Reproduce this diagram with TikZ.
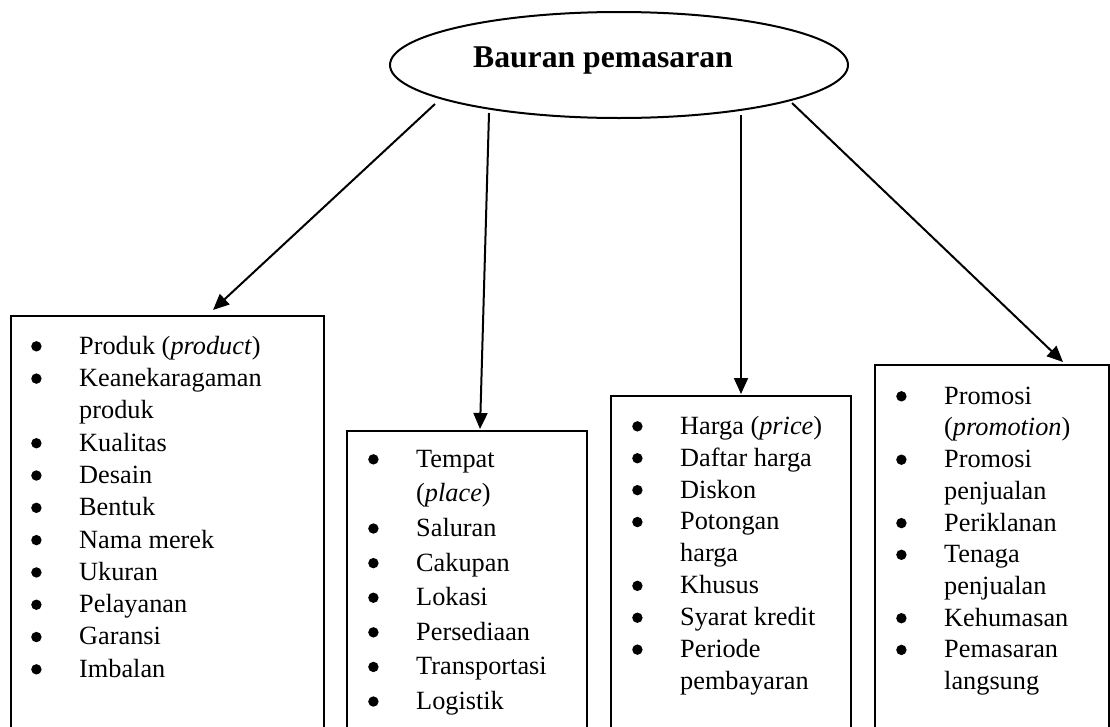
\documentclass[tikz,border=0pt]{standalone}
\usepackage{fontspec}
\setmainfont{Liberation Serif}
\usetikzlibrary{arrows.meta,shapes.geometric,calc}
\newcommand\bul{\tikz[baseline=0pt]\fill (0pt,0.3em) circle (5.2pt);}
\tikzset{
  boxshape/.style={draw, line width=2pt, rectangle, anchor=north west, inner sep=0pt, minimum height=500pt},
  listtext/.style={anchor=north west, inner sep=0pt, align=left, font=\fontsize{26.3}{#1}\selectfont},
  arr/.style={line width=2pt, -{Triangle[length=16pt,width=14pt]}},
  ellshape/.style={draw, ellipse, line width=2pt, inner sep=0pt, minimum width=458pt, minimum height=106pt},
  titletext/.style={anchor=base, inner sep=0pt, font=\fontsize{31.7}{36}\selectfont\bfseries},
}
\begin{document}
\begin{tikzpicture}[x=1pt,y=-1pt]
\useasboundingbox (0,0) rectangle (1110,726);
\begin{scope}
\clip (0,0) rectangle (1110,726);
% central ellipse
\node[ellshape] (ell) at (619,65) {};
\node[titletext] (title) at (603,67) {Bauran pemasaran};
% boxes
\node[boxshape, minimum width=313pt] (b1) at (10,315) {};
\node[boxshape, minimum width=240pt] (b2) at (346,430) {};
\node[boxshape, minimum width=240pt] (b3) at (610,395) {};
\node[boxshape, minimum width=234pt] (b4) at (874,364) {};
% lists
\node[listtext=32.3] (l1) at ($(b1.north west)+(21,16.4)$) {%
\begin{tabular}{@{}p{48pt}@{}l@{}}
\bul & Produk (\textit{product})\\
\bul & Keanekaragaman\\
     & produk\\
\bul & Kualitas\\
\bul & Desain\\
\bul & Bentuk\\
\bul & Nama merek\\
\bul & Ukuran\\
\bul & Pelayanan\\
\bul & Garansi\\
\bul & Imbalan
\end{tabular}};
\node[listtext=34.6] (l2) at ($(b2.north west)+(22,12.8)$) {%
\begin{tabular}{@{}p{48pt}@{}l@{}}
\bul & Tempat\\
     & (\textit{place})\\
\bul & Saluran\\
\bul & Cakupan\\
\bul & Lokasi\\
\bul & Persediaan\\
\bul & Transportasi\\
\bul & Logistik
\end{tabular}};
\node[listtext=31.9] (l3) at ($(b3.north west)+(22,16.7)$) {%
\begin{tabular}{@{}p{48pt}@{}l@{}}
\bul & Harga (\textit{price})\\
\bul & Daftar harga\\
\bul & Diskon\\
\bul & Potongan\\
     & harga\\
\bul & Khusus\\
\bul & Syarat kredit\\
\bul & Periode\\
     & pembayaran
\end{tabular}};
\node[listtext=31.7] (l4) at ($(b4.north west)+(22,17.8)$) {%
\begin{tabular}{@{}p{48pt}@{}l@{}}
\bul & Promosi\\
     & (\textit{promotion})\\
\bul & Promosi\\
     & penjualan\\
\bul & Periklanan\\
\bul & Tenaga\\
     & penjualan\\
\bul & Kehumasan\\
\bul & Pemasaran\\
     & langsung
\end{tabular}};
% connector end points
\coordinate (s1) at (435,104);
\coordinate (s2) at (489,113);
\coordinate (s3) at (741,115);
\coordinate (s4) at (792,103);
\coordinate (t1) at ($(b1.north west)+(203,-5)$);
\coordinate (t2) at ($(b2.north west)+(134,-1)$);
\coordinate (t3) at ($(b3.north west)+(131,-1)$);
\coordinate (t4) at ($(b4.north west)+(189,-2)$);
\draw[arr] (s1) -- (t1);
\draw[arr] (s2) -- (t2);
\draw[arr] (s3) -- (t3);
\draw[arr] (s4) -- (t4);
\end{scope}
\end{tikzpicture}
\end{document}
